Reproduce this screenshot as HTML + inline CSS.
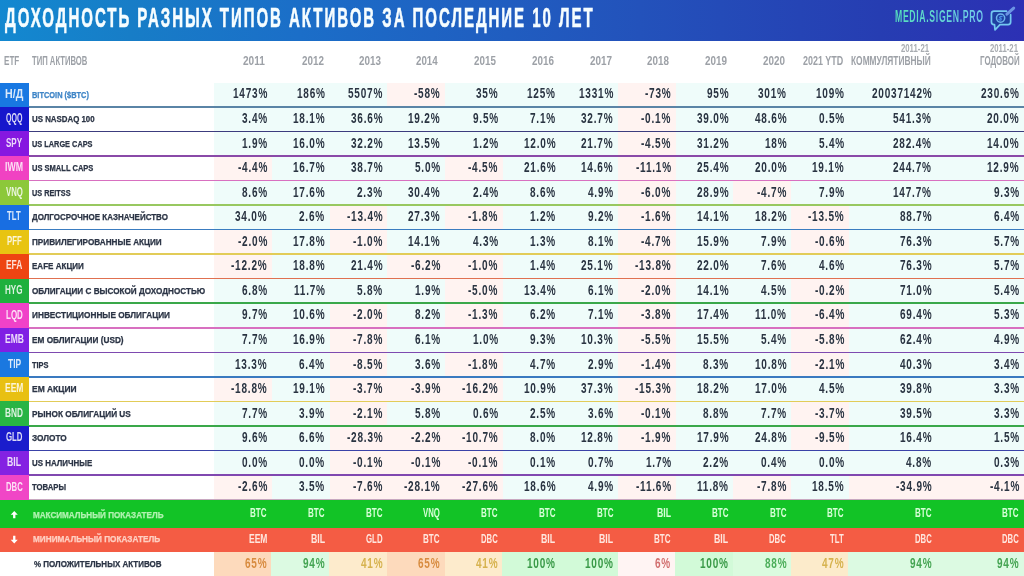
<!DOCTYPE html><html><head><meta charset="utf-8"><style>
*{margin:0;padding:0;box-sizing:border-box}
html,body{width:1024px;height:576px;overflow:hidden;background:#fff}
body{position:relative;font-family:"Liberation Sans",sans-serif}
.a{position:absolute}
.t{position:absolute;white-space:nowrap;transform-origin:0 0}
.b{font-weight:bold}
.s{-webkit-text-stroke:0.25px currentColor}
.bg{position:absolute}
</style></head><body>
<div class="bg" style="left:0;top:0;width:1024px;height:40.5px;background:linear-gradient(90deg,#1388d0 0%,#177dc7 12.7%,#1b6ec8 29.3%,#2352bb 62.5%,#263db2 86%,#2c30b4 100%)"></div>
<div class="t b" style="left:4.55px;top:4.62px;font-size:27px;line-height:27px;color:#f6fdff;transform:scaleX(0.5570);-webkit-text-stroke:0.6px #f6fdff;letter-spacing:3.5px">ДОХОДНОСТЬ РАЗНЫХ ТИПОВ АКТИВОВ ЗА ПОСЛЕДНИЕ 10 ЛЕТ</div>
<div class="t b" style="left:895.39px;top:9.12px;font-size:16px;line-height:16px;color:#5cdcc4;transform:scaleX(0.5437);background:linear-gradient(90deg,#56e0bc,#66d4d8 60%,#74c8ec);-webkit-background-clip:text;background-clip:text;-webkit-text-fill-color:transparent;letter-spacing:1.2px">MEDIA.SIGEN.PRO</div>
<svg class="a" style="left:985px;top:5px" width="34" height="30" viewBox="0 0 34 30" fill="none" stroke-linejoin="round" stroke-linecap="round"><path d="M21.5 6.15 H9 Q6.45 6.15 6.45 8.7 V17 Q6.45 19.55 9 19.55 H9.5 L10 24.8 L15 19.55 H23.1 Q25.65 19.55 25.65 17 V9.7" fill="#1f3fa2" stroke="#74c8f0" stroke-width="1.7"/><circle cx="15.6" cy="13.1" r="4.1" stroke="#6fb4ec" stroke-width="1.5"/><path d="M17 11.6 Q15 10.8 14.6 12.6 Q16.6 13.6 16.2 14.8 Q15 15.6 13.9 14.4" stroke="#4a90ea" stroke-width="1.2"/><path d="M21.9 9.2 L28.7 3.1" stroke="#6c94e4" stroke-width="3"/></svg>
<div class="t b" style="left:3.93px;top:53.91px;font-size:13.5px;line-height:13.5px;color:#9da1a7;transform:scaleX(0.6000)">ETF</div>
<div class="t b" style="left:32.42px;top:53.91px;font-size:13.5px;line-height:13.5px;color:#9da1a7;transform:scaleX(0.5690)">ТИП АКТИВОВ</div>
<div class="t b" style="left:243.10px;top:53.91px;font-size:13.5px;line-height:13.5px;color:#9da1a7;transform:scaleX(0.7478)">2011</div>
<div class="t b" style="left:301.60px;top:53.91px;font-size:13.5px;line-height:13.5px;color:#9da1a7;transform:scaleX(0.7305)">2012</div>
<div class="t b" style="left:358.60px;top:53.91px;font-size:13.5px;line-height:13.5px;color:#9da1a7;transform:scaleX(0.7305)">2013</div>
<div class="t b" style="left:416.36px;top:53.91px;font-size:13.5px;line-height:13.5px;color:#9da1a7;transform:scaleX(0.7204)">2014</div>
<div class="t b" style="left:474.11px;top:53.91px;font-size:13.5px;line-height:13.5px;color:#9da1a7;transform:scaleX(0.7271)">2015</div>
<div class="t b" style="left:531.80px;top:53.91px;font-size:13.5px;line-height:13.5px;color:#9da1a7;transform:scaleX(0.7305)">2016</div>
<div class="t b" style="left:589.50px;top:53.91px;font-size:13.5px;line-height:13.5px;color:#9da1a7;transform:scaleX(0.7339)">2017</div>
<div class="t b" style="left:647.21px;top:53.91px;font-size:13.5px;line-height:13.5px;color:#9da1a7;transform:scaleX(0.7271)">2018</div>
<div class="t b" style="left:704.90px;top:53.91px;font-size:13.5px;line-height:13.5px;color:#9da1a7;transform:scaleX(0.7305)">2019</div>
<div class="t b" style="left:762.60px;top:53.91px;font-size:13.5px;line-height:13.5px;color:#9da1a7;transform:scaleX(0.7305)">2020</div>
<div class="t b" style="left:803.23px;top:53.91px;font-size:13.5px;line-height:13.5px;color:#9da1a7;transform:scaleX(0.6635)">2021 YTD</div>
<div class="t b" style="left:851.16px;top:53.91px;font-size:13.5px;line-height:13.5px;color:#9da1a7;transform:scaleX(0.6204)">КОММУЛЯТИВНЫЙ</div>
<div class="t b" style="left:979.95px;top:53.91px;font-size:13.5px;line-height:13.5px;color:#9da1a7;transform:scaleX(0.5868)">ГОДОВОЙ</div>
<div class="t b" style="left:900.97px;top:43.37px;font-size:10.5px;line-height:10.5px;color:#a9adb2;transform:scaleX(0.7384)">2011-21</div>
<div class="t b" style="left:990.27px;top:43.37px;font-size:10.5px;line-height:10.5px;color:#a9adb2;transform:scaleX(0.7357)">2011-21</div>
<div class="bg" style="left:214.30px;top:83.00px;width:809.70px;height:416.71px;background:#effcfa"></div>
<div class="bg" style="left:387.34px;top:83.00px;width:57.68px;height:23.75px;background:#fff3f1"></div>
<div class="bg" style="left:618.06px;top:83.00px;width:57.68px;height:23.75px;background:#fff3f1"></div>
<div class="bg" style="left:0.00px;top:83.00px;width:28.50px;height:24.35px;background:#1878e2"></div>
<div class="t b" style="left:4.85px;top:86.63px;font-size:13.2px;line-height:13.2px;color:rgba(255,255,255,0.84);transform:scaleX(0.8087)">Н/Д</div>
<div class="t b s" style="left:31.68px;top:90.82px;font-size:8.4px;line-height:8.4px;color:#3d84c6;transform:scaleX(0.8858)">BITCOIN ($BTC)</div>
<div class="t b" style="left:232.70px;top:86.11px;font-size:14px;line-height:14px;color:#2a3442;transform:scaleX(0.7150);letter-spacing:1.1px">1473%</div>
<div class="t b" style="left:296.68px;top:86.11px;font-size:14px;line-height:14px;color:#2a3442;transform:scaleX(0.7150);letter-spacing:1.1px">186%</div>
<div class="t b" style="left:348.06px;top:86.11px;font-size:14px;line-height:14px;color:#2a3442;transform:scaleX(0.7150);letter-spacing:1.1px">5507%</div>
<div class="t b" style="left:414.24px;top:86.11px;font-size:14px;line-height:14px;color:#2a3442;transform:scaleX(0.7150);letter-spacing:1.1px">-58%</div>
<div class="t b" style="left:476.11px;top:86.11px;font-size:14px;line-height:14px;color:#2a3442;transform:scaleX(0.7150);letter-spacing:1.1px">35%</div>
<div class="t b" style="left:527.40px;top:86.11px;font-size:14px;line-height:14px;color:#2a3442;transform:scaleX(0.7150);letter-spacing:1.1px">125%</div>
<div class="t b" style="left:578.78px;top:86.11px;font-size:14px;line-height:14px;color:#2a3442;transform:scaleX(0.7150);letter-spacing:1.1px">1331%</div>
<div class="t b" style="left:644.96px;top:86.11px;font-size:14px;line-height:14px;color:#2a3442;transform:scaleX(0.7150);letter-spacing:1.1px">-73%</div>
<div class="t b" style="left:706.83px;top:86.11px;font-size:14px;line-height:14px;color:#2a3442;transform:scaleX(0.7150);letter-spacing:1.1px">95%</div>
<div class="t b" style="left:758.12px;top:86.11px;font-size:14px;line-height:14px;color:#2a3442;transform:scaleX(0.7150);letter-spacing:1.1px">301%</div>
<div class="t b" style="left:815.80px;top:86.11px;font-size:14px;line-height:14px;color:#2a3442;transform:scaleX(0.7150);letter-spacing:1.1px">109%</div>
<div class="t b" style="left:871.55px;top:86.11px;font-size:14px;line-height:14px;color:#2a3442;transform:scaleX(0.7150);letter-spacing:1.1px">20037142%</div>
<div class="t b" style="left:981.18px;top:86.11px;font-size:14px;line-height:14px;color:#2a3442;transform:scaleX(0.7150);letter-spacing:1.1px">230.6%</div>
<div class="bg" style="left:618.06px;top:106.75px;width:57.68px;height:24.56px;background:#fff3f1"></div>
<div class="bg" style="left:0.00px;top:106.75px;width:28.50px;height:25.16px;background:#1616cc"></div>
<div class="t b" style="left:6.07px;top:111.13px;font-size:13.2px;line-height:13.2px;color:rgba(255,255,255,0.84);transform:scaleX(0.5330)">QQQ</div>
<div class="t b s" style="left:31.73px;top:114.98px;font-size:8.4px;line-height:8.4px;color:#2b3445;transform:scaleX(0.9410)">US NASDAQ 100</div>
<div class="t b" style="left:241.80px;top:110.96px;font-size:14px;line-height:14px;color:#2a3442;transform:scaleX(0.7150);letter-spacing:1.1px">3.4%</div>
<div class="t b" style="left:293.09px;top:110.96px;font-size:14px;line-height:14px;color:#2a3442;transform:scaleX(0.7150);letter-spacing:1.1px">18.1%</div>
<div class="t b" style="left:350.77px;top:110.96px;font-size:14px;line-height:14px;color:#2a3442;transform:scaleX(0.7150);letter-spacing:1.1px">36.6%</div>
<div class="t b" style="left:408.45px;top:110.96px;font-size:14px;line-height:14px;color:#2a3442;transform:scaleX(0.7150);letter-spacing:1.1px">19.2%</div>
<div class="t b" style="left:472.52px;top:110.96px;font-size:14px;line-height:14px;color:#2a3442;transform:scaleX(0.7150);letter-spacing:1.1px">9.5%</div>
<div class="t b" style="left:530.20px;top:110.96px;font-size:14px;line-height:14px;color:#2a3442;transform:scaleX(0.7150);letter-spacing:1.1px">7.1%</div>
<div class="t b" style="left:581.49px;top:110.96px;font-size:14px;line-height:14px;color:#2a3442;transform:scaleX(0.7150);letter-spacing:1.1px">32.7%</div>
<div class="t b" style="left:641.47px;top:110.96px;font-size:14px;line-height:14px;color:#2a3442;transform:scaleX(0.7150);letter-spacing:1.1px">-0.1%</div>
<div class="t b" style="left:696.85px;top:110.96px;font-size:14px;line-height:14px;color:#2a3442;transform:scaleX(0.7150);letter-spacing:1.1px">39.0%</div>
<div class="t b" style="left:754.53px;top:110.96px;font-size:14px;line-height:14px;color:#2a3442;transform:scaleX(0.7150);letter-spacing:1.1px">48.6%</div>
<div class="t b" style="left:818.60px;top:110.96px;font-size:14px;line-height:14px;color:#2a3442;transform:scaleX(0.7150);letter-spacing:1.1px">0.5%</div>
<div class="t b" style="left:893.43px;top:110.96px;font-size:14px;line-height:14px;color:#2a3442;transform:scaleX(0.7150);letter-spacing:1.1px">541.3%</div>
<div class="t b" style="left:987.48px;top:110.96px;font-size:14px;line-height:14px;color:#2a3442;transform:scaleX(0.7150);letter-spacing:1.1px">20.0%</div>
<div class="bg" style="left:618.06px;top:131.31px;width:57.68px;height:24.56px;background:#fff3f1"></div>
<div class="bg" style="left:0.00px;top:131.31px;width:28.50px;height:25.16px;background:#8618e0"></div>
<div class="t b" style="left:6.26px;top:135.69px;font-size:13.2px;line-height:13.2px;color:rgba(255,255,255,0.84);transform:scaleX(0.6061)">SPY</div>
<div class="t b s" style="left:31.76px;top:139.54px;font-size:8.4px;line-height:8.4px;color:#2b3445;transform:scaleX(0.8786)">US LARGE CAPS</div>
<div class="t b" style="left:241.80px;top:135.52px;font-size:14px;line-height:14px;color:#2a3442;transform:scaleX(0.7150);letter-spacing:1.1px">1.9%</div>
<div class="t b" style="left:293.09px;top:135.52px;font-size:14px;line-height:14px;color:#2a3442;transform:scaleX(0.7150);letter-spacing:1.1px">16.0%</div>
<div class="t b" style="left:350.77px;top:135.52px;font-size:14px;line-height:14px;color:#2a3442;transform:scaleX(0.7150);letter-spacing:1.1px">32.2%</div>
<div class="t b" style="left:408.45px;top:135.52px;font-size:14px;line-height:14px;color:#2a3442;transform:scaleX(0.7150);letter-spacing:1.1px">13.5%</div>
<div class="t b" style="left:472.52px;top:135.52px;font-size:14px;line-height:14px;color:#2a3442;transform:scaleX(0.7150);letter-spacing:1.1px">1.2%</div>
<div class="t b" style="left:523.81px;top:135.52px;font-size:14px;line-height:14px;color:#2a3442;transform:scaleX(0.7150);letter-spacing:1.1px">12.0%</div>
<div class="t b" style="left:581.49px;top:135.52px;font-size:14px;line-height:14px;color:#2a3442;transform:scaleX(0.7150);letter-spacing:1.1px">21.7%</div>
<div class="t b" style="left:641.47px;top:135.52px;font-size:14px;line-height:14px;color:#2a3442;transform:scaleX(0.7150);letter-spacing:1.1px">-4.5%</div>
<div class="t b" style="left:696.85px;top:135.52px;font-size:14px;line-height:14px;color:#2a3442;transform:scaleX(0.7150);letter-spacing:1.1px">31.2%</div>
<div class="t b" style="left:764.51px;top:135.52px;font-size:14px;line-height:14px;color:#2a3442;transform:scaleX(0.7150);letter-spacing:1.1px">18%</div>
<div class="t b" style="left:818.60px;top:135.52px;font-size:14px;line-height:14px;color:#2a3442;transform:scaleX(0.7150);letter-spacing:1.1px">5.4%</div>
<div class="t b" style="left:893.43px;top:135.52px;font-size:14px;line-height:14px;color:#2a3442;transform:scaleX(0.7150);letter-spacing:1.1px">282.4%</div>
<div class="t b" style="left:987.48px;top:135.52px;font-size:14px;line-height:14px;color:#2a3442;transform:scaleX(0.7150);letter-spacing:1.1px">14.0%</div>
<div class="bg" style="left:214.30px;top:155.87px;width:57.68px;height:24.56px;background:#fff3f1"></div>
<div class="bg" style="left:445.02px;top:155.87px;width:57.68px;height:24.56px;background:#fff3f1"></div>
<div class="bg" style="left:618.06px;top:155.87px;width:57.68px;height:24.56px;background:#fff3f1"></div>
<div class="bg" style="left:0.00px;top:155.87px;width:28.50px;height:25.16px;background:#f042c2"></div>
<div class="t b" style="left:5.29px;top:160.25px;font-size:13.2px;line-height:13.2px;color:rgba(255,255,255,0.84);transform:scaleX(0.6629)">IWM</div>
<div class="t b s" style="left:31.75px;top:164.10px;font-size:8.4px;line-height:8.4px;color:#2b3445;transform:scaleX(0.8991)">US SMALL CAPS</div>
<div class="t b" style="left:237.71px;top:160.08px;font-size:14px;line-height:14px;color:#2a3442;transform:scaleX(0.7150);letter-spacing:1.1px">-4.4%</div>
<div class="t b" style="left:293.09px;top:160.08px;font-size:14px;line-height:14px;color:#2a3442;transform:scaleX(0.7150);letter-spacing:1.1px">16.7%</div>
<div class="t b" style="left:350.77px;top:160.08px;font-size:14px;line-height:14px;color:#2a3442;transform:scaleX(0.7150);letter-spacing:1.1px">38.7%</div>
<div class="t b" style="left:414.84px;top:160.08px;font-size:14px;line-height:14px;color:#2a3442;transform:scaleX(0.7150);letter-spacing:1.1px">5.0%</div>
<div class="t b" style="left:468.43px;top:160.08px;font-size:14px;line-height:14px;color:#2a3442;transform:scaleX(0.7150);letter-spacing:1.1px">-4.5%</div>
<div class="t b" style="left:523.81px;top:160.08px;font-size:14px;line-height:14px;color:#2a3442;transform:scaleX(0.7150);letter-spacing:1.1px">21.6%</div>
<div class="t b" style="left:581.49px;top:160.08px;font-size:14px;line-height:14px;color:#2a3442;transform:scaleX(0.7150);letter-spacing:1.1px">14.6%</div>
<div class="t b" style="left:635.68px;top:160.08px;font-size:14px;line-height:14px;color:#2a3442;transform:scaleX(0.7150);letter-spacing:1.1px">-11.1%</div>
<div class="t b" style="left:696.85px;top:160.08px;font-size:14px;line-height:14px;color:#2a3442;transform:scaleX(0.7150);letter-spacing:1.1px">25.4%</div>
<div class="t b" style="left:754.53px;top:160.08px;font-size:14px;line-height:14px;color:#2a3442;transform:scaleX(0.7150);letter-spacing:1.1px">20.0%</div>
<div class="t b" style="left:812.21px;top:160.08px;font-size:14px;line-height:14px;color:#2a3442;transform:scaleX(0.7150);letter-spacing:1.1px">19.1%</div>
<div class="t b" style="left:893.43px;top:160.08px;font-size:14px;line-height:14px;color:#2a3442;transform:scaleX(0.7150);letter-spacing:1.1px">244.7%</div>
<div class="t b" style="left:987.48px;top:160.08px;font-size:14px;line-height:14px;color:#2a3442;transform:scaleX(0.7150);letter-spacing:1.1px">12.9%</div>
<div class="bg" style="left:618.06px;top:180.43px;width:57.68px;height:24.56px;background:#fff3f1"></div>
<div class="bg" style="left:733.42px;top:180.43px;width:57.68px;height:24.56px;background:#fff3f1"></div>
<div class="bg" style="left:0.00px;top:180.43px;width:28.50px;height:25.16px;background:#8cc83a"></div>
<div class="t b" style="left:5.97px;top:184.81px;font-size:13.2px;line-height:13.2px;color:rgba(255,255,255,0.84);transform:scaleX(0.5896)">VNQ</div>
<div class="t b s" style="left:31.76px;top:188.66px;font-size:8.4px;line-height:8.4px;color:#2b3445;transform:scaleX(0.8710)">US REITSS</div>
<div class="t b" style="left:241.80px;top:184.64px;font-size:14px;line-height:14px;color:#2a3442;transform:scaleX(0.7150);letter-spacing:1.1px">8.6%</div>
<div class="t b" style="left:293.09px;top:184.64px;font-size:14px;line-height:14px;color:#2a3442;transform:scaleX(0.7150);letter-spacing:1.1px">17.6%</div>
<div class="t b" style="left:357.16px;top:184.64px;font-size:14px;line-height:14px;color:#2a3442;transform:scaleX(0.7150);letter-spacing:1.1px">2.3%</div>
<div class="t b" style="left:408.45px;top:184.64px;font-size:14px;line-height:14px;color:#2a3442;transform:scaleX(0.7150);letter-spacing:1.1px">30.4%</div>
<div class="t b" style="left:472.52px;top:184.64px;font-size:14px;line-height:14px;color:#2a3442;transform:scaleX(0.7150);letter-spacing:1.1px">2.4%</div>
<div class="t b" style="left:530.20px;top:184.64px;font-size:14px;line-height:14px;color:#2a3442;transform:scaleX(0.7150);letter-spacing:1.1px">8.6%</div>
<div class="t b" style="left:587.88px;top:184.64px;font-size:14px;line-height:14px;color:#2a3442;transform:scaleX(0.7150);letter-spacing:1.1px">4.9%</div>
<div class="t b" style="left:641.47px;top:184.64px;font-size:14px;line-height:14px;color:#2a3442;transform:scaleX(0.7150);letter-spacing:1.1px">-6.0%</div>
<div class="t b" style="left:696.85px;top:184.64px;font-size:14px;line-height:14px;color:#2a3442;transform:scaleX(0.7150);letter-spacing:1.1px">28.9%</div>
<div class="t b" style="left:756.83px;top:184.64px;font-size:14px;line-height:14px;color:#2a3442;transform:scaleX(0.7150);letter-spacing:1.1px">-4.7%</div>
<div class="t b" style="left:818.60px;top:184.64px;font-size:14px;line-height:14px;color:#2a3442;transform:scaleX(0.7150);letter-spacing:1.1px">7.9%</div>
<div class="t b" style="left:893.43px;top:184.64px;font-size:14px;line-height:14px;color:#2a3442;transform:scaleX(0.7150);letter-spacing:1.1px">147.7%</div>
<div class="t b" style="left:993.87px;top:184.64px;font-size:14px;line-height:14px;color:#2a3442;transform:scaleX(0.7150);letter-spacing:1.1px">9.3%</div>
<div class="bg" style="left:329.66px;top:204.99px;width:57.68px;height:24.56px;background:#fff3f1"></div>
<div class="bg" style="left:445.02px;top:204.99px;width:57.68px;height:24.56px;background:#fff3f1"></div>
<div class="bg" style="left:618.06px;top:204.99px;width:57.68px;height:24.56px;background:#fff3f1"></div>
<div class="bg" style="left:791.10px;top:204.99px;width:57.68px;height:24.56px;background:#fff3f1"></div>
<div class="bg" style="left:0.00px;top:204.99px;width:28.50px;height:25.16px;background:#186ee2"></div>
<div class="t b" style="left:7.47px;top:209.37px;font-size:13.2px;line-height:13.2px;color:rgba(255,255,255,0.84);transform:scaleX(0.5878)">TLT</div>
<div class="t b s" style="left:32.12px;top:213.22px;font-size:8.4px;line-height:8.4px;color:#2b3445;transform:scaleX(0.9545)">ДОЛГОСРОЧНОЕ КАЗНАЧЕЙСТВО</div>
<div class="t b" style="left:235.41px;top:209.20px;font-size:14px;line-height:14px;color:#2a3442;transform:scaleX(0.7150);letter-spacing:1.1px">34.0%</div>
<div class="t b" style="left:299.48px;top:209.20px;font-size:14px;line-height:14px;color:#2a3442;transform:scaleX(0.7150);letter-spacing:1.1px">2.6%</div>
<div class="t b" style="left:346.68px;top:209.20px;font-size:14px;line-height:14px;color:#2a3442;transform:scaleX(0.7150);letter-spacing:1.1px">-13.4%</div>
<div class="t b" style="left:408.45px;top:209.20px;font-size:14px;line-height:14px;color:#2a3442;transform:scaleX(0.7150);letter-spacing:1.1px">27.3%</div>
<div class="t b" style="left:468.43px;top:209.20px;font-size:14px;line-height:14px;color:#2a3442;transform:scaleX(0.7150);letter-spacing:1.1px">-1.8%</div>
<div class="t b" style="left:530.20px;top:209.20px;font-size:14px;line-height:14px;color:#2a3442;transform:scaleX(0.7150);letter-spacing:1.1px">1.2%</div>
<div class="t b" style="left:587.88px;top:209.20px;font-size:14px;line-height:14px;color:#2a3442;transform:scaleX(0.7150);letter-spacing:1.1px">9.2%</div>
<div class="t b" style="left:641.47px;top:209.20px;font-size:14px;line-height:14px;color:#2a3442;transform:scaleX(0.7150);letter-spacing:1.1px">-1.6%</div>
<div class="t b" style="left:696.85px;top:209.20px;font-size:14px;line-height:14px;color:#2a3442;transform:scaleX(0.7150);letter-spacing:1.1px">14.1%</div>
<div class="t b" style="left:754.53px;top:209.20px;font-size:14px;line-height:14px;color:#2a3442;transform:scaleX(0.7150);letter-spacing:1.1px">18.2%</div>
<div class="t b" style="left:808.12px;top:209.20px;font-size:14px;line-height:14px;color:#2a3442;transform:scaleX(0.7150);letter-spacing:1.1px">-13.5%</div>
<div class="t b" style="left:899.73px;top:209.20px;font-size:14px;line-height:14px;color:#2a3442;transform:scaleX(0.7150);letter-spacing:1.1px">88.7%</div>
<div class="t b" style="left:993.87px;top:209.20px;font-size:14px;line-height:14px;color:#2a3442;transform:scaleX(0.7150);letter-spacing:1.1px">6.4%</div>
<div class="bg" style="left:214.30px;top:229.55px;width:57.68px;height:24.56px;background:#fff3f1"></div>
<div class="bg" style="left:329.66px;top:229.55px;width:57.68px;height:24.56px;background:#fff3f1"></div>
<div class="bg" style="left:618.06px;top:229.55px;width:57.68px;height:24.56px;background:#fff3f1"></div>
<div class="bg" style="left:791.10px;top:229.55px;width:57.68px;height:24.56px;background:#fff3f1"></div>
<div class="bg" style="left:0.00px;top:229.55px;width:28.50px;height:25.16px;background:#e8c412"></div>
<div class="t b" style="left:6.81px;top:233.93px;font-size:13.2px;line-height:13.2px;color:rgba(255,255,255,0.84);transform:scaleX(0.5883)">PFF</div>
<div class="t b s" style="left:31.63px;top:237.78px;font-size:8.4px;line-height:8.4px;color:#2b3445;transform:scaleX(0.9744)">ПРИВИЛЕГИРОВАННЫЕ АКЦИИ</div>
<div class="t b" style="left:237.71px;top:233.76px;font-size:14px;line-height:14px;color:#2a3442;transform:scaleX(0.7150);letter-spacing:1.1px">-2.0%</div>
<div class="t b" style="left:293.09px;top:233.76px;font-size:14px;line-height:14px;color:#2a3442;transform:scaleX(0.7150);letter-spacing:1.1px">17.8%</div>
<div class="t b" style="left:353.07px;top:233.76px;font-size:14px;line-height:14px;color:#2a3442;transform:scaleX(0.7150);letter-spacing:1.1px">-1.0%</div>
<div class="t b" style="left:408.45px;top:233.76px;font-size:14px;line-height:14px;color:#2a3442;transform:scaleX(0.7150);letter-spacing:1.1px">14.1%</div>
<div class="t b" style="left:472.52px;top:233.76px;font-size:14px;line-height:14px;color:#2a3442;transform:scaleX(0.7150);letter-spacing:1.1px">4.3%</div>
<div class="t b" style="left:530.20px;top:233.76px;font-size:14px;line-height:14px;color:#2a3442;transform:scaleX(0.7150);letter-spacing:1.1px">1.3%</div>
<div class="t b" style="left:587.88px;top:233.76px;font-size:14px;line-height:14px;color:#2a3442;transform:scaleX(0.7150);letter-spacing:1.1px">8.1%</div>
<div class="t b" style="left:641.47px;top:233.76px;font-size:14px;line-height:14px;color:#2a3442;transform:scaleX(0.7150);letter-spacing:1.1px">-4.7%</div>
<div class="t b" style="left:696.85px;top:233.76px;font-size:14px;line-height:14px;color:#2a3442;transform:scaleX(0.7150);letter-spacing:1.1px">15.9%</div>
<div class="t b" style="left:760.92px;top:233.76px;font-size:14px;line-height:14px;color:#2a3442;transform:scaleX(0.7150);letter-spacing:1.1px">7.9%</div>
<div class="t b" style="left:814.51px;top:233.76px;font-size:14px;line-height:14px;color:#2a3442;transform:scaleX(0.7150);letter-spacing:1.1px">-0.6%</div>
<div class="t b" style="left:899.73px;top:233.76px;font-size:14px;line-height:14px;color:#2a3442;transform:scaleX(0.7150);letter-spacing:1.1px">76.3%</div>
<div class="t b" style="left:993.87px;top:233.76px;font-size:14px;line-height:14px;color:#2a3442;transform:scaleX(0.7150);letter-spacing:1.1px">5.7%</div>
<div class="bg" style="left:214.30px;top:254.11px;width:57.68px;height:24.56px;background:#fff3f1"></div>
<div class="bg" style="left:387.34px;top:254.11px;width:115.36px;height:24.56px;background:#fff3f1"></div>
<div class="bg" style="left:618.06px;top:254.11px;width:57.68px;height:24.56px;background:#fff3f1"></div>
<div class="bg" style="left:0.00px;top:254.11px;width:28.50px;height:25.16px;background:#ee4412"></div>
<div class="t b" style="left:5.91px;top:258.49px;font-size:13.2px;line-height:13.2px;color:rgba(255,255,255,0.84);transform:scaleX(0.6388)">EFA</div>
<div class="t b s" style="left:31.64px;top:262.34px;font-size:8.4px;line-height:8.4px;color:#2b3445;transform:scaleX(0.9603)">EAFE АКЦИИ</div>
<div class="t b" style="left:231.32px;top:258.32px;font-size:14px;line-height:14px;color:#2a3442;transform:scaleX(0.7150);letter-spacing:1.1px">-12.2%</div>
<div class="t b" style="left:293.09px;top:258.32px;font-size:14px;line-height:14px;color:#2a3442;transform:scaleX(0.7150);letter-spacing:1.1px">18.8%</div>
<div class="t b" style="left:350.77px;top:258.32px;font-size:14px;line-height:14px;color:#2a3442;transform:scaleX(0.7150);letter-spacing:1.1px">21.4%</div>
<div class="t b" style="left:410.75px;top:258.32px;font-size:14px;line-height:14px;color:#2a3442;transform:scaleX(0.7150);letter-spacing:1.1px">-6.2%</div>
<div class="t b" style="left:468.43px;top:258.32px;font-size:14px;line-height:14px;color:#2a3442;transform:scaleX(0.7150);letter-spacing:1.1px">-1.0%</div>
<div class="t b" style="left:530.20px;top:258.32px;font-size:14px;line-height:14px;color:#2a3442;transform:scaleX(0.7150);letter-spacing:1.1px">1.4%</div>
<div class="t b" style="left:581.49px;top:258.32px;font-size:14px;line-height:14px;color:#2a3442;transform:scaleX(0.7150);letter-spacing:1.1px">25.1%</div>
<div class="t b" style="left:635.08px;top:258.32px;font-size:14px;line-height:14px;color:#2a3442;transform:scaleX(0.7150);letter-spacing:1.1px">-13.8%</div>
<div class="t b" style="left:696.85px;top:258.32px;font-size:14px;line-height:14px;color:#2a3442;transform:scaleX(0.7150);letter-spacing:1.1px">22.0%</div>
<div class="t b" style="left:760.92px;top:258.32px;font-size:14px;line-height:14px;color:#2a3442;transform:scaleX(0.7150);letter-spacing:1.1px">7.6%</div>
<div class="t b" style="left:818.60px;top:258.32px;font-size:14px;line-height:14px;color:#2a3442;transform:scaleX(0.7150);letter-spacing:1.1px">4.6%</div>
<div class="t b" style="left:899.73px;top:258.32px;font-size:14px;line-height:14px;color:#2a3442;transform:scaleX(0.7150);letter-spacing:1.1px">76.3%</div>
<div class="t b" style="left:993.87px;top:258.32px;font-size:14px;line-height:14px;color:#2a3442;transform:scaleX(0.7150);letter-spacing:1.1px">5.7%</div>
<div class="bg" style="left:445.02px;top:278.67px;width:57.68px;height:24.56px;background:#fff3f1"></div>
<div class="bg" style="left:618.06px;top:278.67px;width:57.68px;height:24.56px;background:#fff3f1"></div>
<div class="bg" style="left:791.10px;top:278.67px;width:57.68px;height:24.56px;background:#fff3f1"></div>
<div class="bg" style="left:0.00px;top:278.67px;width:28.50px;height:25.16px;background:#1fb03e"></div>
<div class="t b" style="left:5.48px;top:283.05px;font-size:13.2px;line-height:13.2px;color:rgba(255,255,255,0.84);transform:scaleX(0.6127)">HYG</div>
<div class="t b s" style="left:31.87px;top:286.90px;font-size:8.4px;line-height:8.4px;color:#2b3445;transform:scaleX(0.9729)">ОБЛИГАЦИИ С ВЫСОКОЙ ДОХОДНОСТЬЮ</div>
<div class="t b" style="left:241.80px;top:282.88px;font-size:14px;line-height:14px;color:#2a3442;transform:scaleX(0.7150);letter-spacing:1.1px">6.8%</div>
<div class="t b" style="left:293.69px;top:282.88px;font-size:14px;line-height:14px;color:#2a3442;transform:scaleX(0.7150);letter-spacing:1.1px">11.7%</div>
<div class="t b" style="left:357.16px;top:282.88px;font-size:14px;line-height:14px;color:#2a3442;transform:scaleX(0.7150);letter-spacing:1.1px">5.8%</div>
<div class="t b" style="left:414.84px;top:282.88px;font-size:14px;line-height:14px;color:#2a3442;transform:scaleX(0.7150);letter-spacing:1.1px">1.9%</div>
<div class="t b" style="left:468.43px;top:282.88px;font-size:14px;line-height:14px;color:#2a3442;transform:scaleX(0.7150);letter-spacing:1.1px">-5.0%</div>
<div class="t b" style="left:523.81px;top:282.88px;font-size:14px;line-height:14px;color:#2a3442;transform:scaleX(0.7150);letter-spacing:1.1px">13.4%</div>
<div class="t b" style="left:587.88px;top:282.88px;font-size:14px;line-height:14px;color:#2a3442;transform:scaleX(0.7150);letter-spacing:1.1px">6.1%</div>
<div class="t b" style="left:641.47px;top:282.88px;font-size:14px;line-height:14px;color:#2a3442;transform:scaleX(0.7150);letter-spacing:1.1px">-2.0%</div>
<div class="t b" style="left:696.85px;top:282.88px;font-size:14px;line-height:14px;color:#2a3442;transform:scaleX(0.7150);letter-spacing:1.1px">14.1%</div>
<div class="t b" style="left:760.92px;top:282.88px;font-size:14px;line-height:14px;color:#2a3442;transform:scaleX(0.7150);letter-spacing:1.1px">4.5%</div>
<div class="t b" style="left:814.51px;top:282.88px;font-size:14px;line-height:14px;color:#2a3442;transform:scaleX(0.7150);letter-spacing:1.1px">-0.2%</div>
<div class="t b" style="left:899.73px;top:282.88px;font-size:14px;line-height:14px;color:#2a3442;transform:scaleX(0.7150);letter-spacing:1.1px">71.0%</div>
<div class="t b" style="left:993.87px;top:282.88px;font-size:14px;line-height:14px;color:#2a3442;transform:scaleX(0.7150);letter-spacing:1.1px">5.4%</div>
<div class="bg" style="left:329.66px;top:303.23px;width:57.68px;height:24.56px;background:#fff3f1"></div>
<div class="bg" style="left:445.02px;top:303.23px;width:57.68px;height:24.56px;background:#fff3f1"></div>
<div class="bg" style="left:618.06px;top:303.23px;width:57.68px;height:24.56px;background:#fff3f1"></div>
<div class="bg" style="left:791.10px;top:303.23px;width:57.68px;height:24.56px;background:#fff3f1"></div>
<div class="bg" style="left:0.00px;top:303.23px;width:28.50px;height:25.16px;background:#f042c8"></div>
<div class="t b" style="left:5.74px;top:307.61px;font-size:13.2px;line-height:13.2px;color:rgba(255,255,255,0.84);transform:scaleX(0.6061)">LQD</div>
<div class="t b s" style="left:31.62px;top:311.46px;font-size:8.4px;line-height:8.4px;color:#2b3445;transform:scaleX(0.9847)">ИНВЕСТИЦИОННЫЕ ОБЛИГАЦИИ</div>
<div class="t b" style="left:241.80px;top:307.44px;font-size:14px;line-height:14px;color:#2a3442;transform:scaleX(0.7150);letter-spacing:1.1px">9.7%</div>
<div class="t b" style="left:293.09px;top:307.44px;font-size:14px;line-height:14px;color:#2a3442;transform:scaleX(0.7150);letter-spacing:1.1px">10.6%</div>
<div class="t b" style="left:353.07px;top:307.44px;font-size:14px;line-height:14px;color:#2a3442;transform:scaleX(0.7150);letter-spacing:1.1px">-2.0%</div>
<div class="t b" style="left:414.84px;top:307.44px;font-size:14px;line-height:14px;color:#2a3442;transform:scaleX(0.7150);letter-spacing:1.1px">8.2%</div>
<div class="t b" style="left:468.43px;top:307.44px;font-size:14px;line-height:14px;color:#2a3442;transform:scaleX(0.7150);letter-spacing:1.1px">-1.3%</div>
<div class="t b" style="left:530.20px;top:307.44px;font-size:14px;line-height:14px;color:#2a3442;transform:scaleX(0.7150);letter-spacing:1.1px">6.2%</div>
<div class="t b" style="left:587.88px;top:307.44px;font-size:14px;line-height:14px;color:#2a3442;transform:scaleX(0.7150);letter-spacing:1.1px">7.1%</div>
<div class="t b" style="left:641.47px;top:307.44px;font-size:14px;line-height:14px;color:#2a3442;transform:scaleX(0.7150);letter-spacing:1.1px">-3.8%</div>
<div class="t b" style="left:696.85px;top:307.44px;font-size:14px;line-height:14px;color:#2a3442;transform:scaleX(0.7150);letter-spacing:1.1px">17.4%</div>
<div class="t b" style="left:755.13px;top:307.44px;font-size:14px;line-height:14px;color:#2a3442;transform:scaleX(0.7150);letter-spacing:1.1px">11.0%</div>
<div class="t b" style="left:814.51px;top:307.44px;font-size:14px;line-height:14px;color:#2a3442;transform:scaleX(0.7150);letter-spacing:1.1px">-6.4%</div>
<div class="t b" style="left:899.73px;top:307.44px;font-size:14px;line-height:14px;color:#2a3442;transform:scaleX(0.7150);letter-spacing:1.1px">69.4%</div>
<div class="t b" style="left:993.87px;top:307.44px;font-size:14px;line-height:14px;color:#2a3442;transform:scaleX(0.7150);letter-spacing:1.1px">5.3%</div>
<div class="bg" style="left:329.66px;top:327.79px;width:57.68px;height:24.56px;background:#fff3f1"></div>
<div class="bg" style="left:618.06px;top:327.79px;width:57.68px;height:24.56px;background:#fff3f1"></div>
<div class="bg" style="left:791.10px;top:327.79px;width:57.68px;height:24.56px;background:#fff3f1"></div>
<div class="bg" style="left:0.00px;top:327.79px;width:28.50px;height:25.16px;background:#8020e4"></div>
<div class="t b" style="left:4.70px;top:332.17px;font-size:13.2px;line-height:13.2px;color:rgba(255,255,255,0.84);transform:scaleX(0.6463)">EMB</div>
<div class="t b s" style="left:31.62px;top:336.02px;font-size:8.4px;line-height:8.4px;color:#2b3445;transform:scaleX(0.9838)">EM ОБЛИГАЦИИ (USD)</div>
<div class="t b" style="left:241.80px;top:332.00px;font-size:14px;line-height:14px;color:#2a3442;transform:scaleX(0.7150);letter-spacing:1.1px">7.7%</div>
<div class="t b" style="left:293.09px;top:332.00px;font-size:14px;line-height:14px;color:#2a3442;transform:scaleX(0.7150);letter-spacing:1.1px">16.9%</div>
<div class="t b" style="left:353.07px;top:332.00px;font-size:14px;line-height:14px;color:#2a3442;transform:scaleX(0.7150);letter-spacing:1.1px">-7.8%</div>
<div class="t b" style="left:414.84px;top:332.00px;font-size:14px;line-height:14px;color:#2a3442;transform:scaleX(0.7150);letter-spacing:1.1px">6.1%</div>
<div class="t b" style="left:472.52px;top:332.00px;font-size:14px;line-height:14px;color:#2a3442;transform:scaleX(0.7150);letter-spacing:1.1px">1.0%</div>
<div class="t b" style="left:530.20px;top:332.00px;font-size:14px;line-height:14px;color:#2a3442;transform:scaleX(0.7150);letter-spacing:1.1px">9.3%</div>
<div class="t b" style="left:581.49px;top:332.00px;font-size:14px;line-height:14px;color:#2a3442;transform:scaleX(0.7150);letter-spacing:1.1px">10.3%</div>
<div class="t b" style="left:641.47px;top:332.00px;font-size:14px;line-height:14px;color:#2a3442;transform:scaleX(0.7150);letter-spacing:1.1px">-5.5%</div>
<div class="t b" style="left:696.85px;top:332.00px;font-size:14px;line-height:14px;color:#2a3442;transform:scaleX(0.7150);letter-spacing:1.1px">15.5%</div>
<div class="t b" style="left:760.92px;top:332.00px;font-size:14px;line-height:14px;color:#2a3442;transform:scaleX(0.7150);letter-spacing:1.1px">5.4%</div>
<div class="t b" style="left:814.51px;top:332.00px;font-size:14px;line-height:14px;color:#2a3442;transform:scaleX(0.7150);letter-spacing:1.1px">-5.8%</div>
<div class="t b" style="left:899.73px;top:332.00px;font-size:14px;line-height:14px;color:#2a3442;transform:scaleX(0.7150);letter-spacing:1.1px">62.4%</div>
<div class="t b" style="left:993.87px;top:332.00px;font-size:14px;line-height:14px;color:#2a3442;transform:scaleX(0.7150);letter-spacing:1.1px">4.9%</div>
<div class="bg" style="left:329.66px;top:352.35px;width:57.68px;height:24.56px;background:#fff3f1"></div>
<div class="bg" style="left:445.02px;top:352.35px;width:57.68px;height:24.56px;background:#fff3f1"></div>
<div class="bg" style="left:618.06px;top:352.35px;width:57.68px;height:24.56px;background:#fff3f1"></div>
<div class="bg" style="left:791.10px;top:352.35px;width:57.68px;height:24.56px;background:#fff3f1"></div>
<div class="bg" style="left:0.00px;top:352.35px;width:28.50px;height:25.16px;background:#1a78e0"></div>
<div class="t b" style="left:7.87px;top:356.73px;font-size:13.2px;line-height:13.2px;color:rgba(255,255,255,0.84);transform:scaleX(0.6372)">TIP</div>
<div class="t b s" style="left:32.13px;top:360.58px;font-size:8.4px;line-height:8.4px;color:#2b3445;transform:scaleX(0.8901)">TIPS</div>
<div class="t b" style="left:235.41px;top:356.56px;font-size:14px;line-height:14px;color:#2a3442;transform:scaleX(0.7150);letter-spacing:1.1px">13.3%</div>
<div class="t b" style="left:299.48px;top:356.56px;font-size:14px;line-height:14px;color:#2a3442;transform:scaleX(0.7150);letter-spacing:1.1px">6.4%</div>
<div class="t b" style="left:353.07px;top:356.56px;font-size:14px;line-height:14px;color:#2a3442;transform:scaleX(0.7150);letter-spacing:1.1px">-8.5%</div>
<div class="t b" style="left:414.84px;top:356.56px;font-size:14px;line-height:14px;color:#2a3442;transform:scaleX(0.7150);letter-spacing:1.1px">3.6%</div>
<div class="t b" style="left:468.43px;top:356.56px;font-size:14px;line-height:14px;color:#2a3442;transform:scaleX(0.7150);letter-spacing:1.1px">-1.8%</div>
<div class="t b" style="left:530.20px;top:356.56px;font-size:14px;line-height:14px;color:#2a3442;transform:scaleX(0.7150);letter-spacing:1.1px">4.7%</div>
<div class="t b" style="left:587.88px;top:356.56px;font-size:14px;line-height:14px;color:#2a3442;transform:scaleX(0.7150);letter-spacing:1.1px">2.9%</div>
<div class="t b" style="left:641.47px;top:356.56px;font-size:14px;line-height:14px;color:#2a3442;transform:scaleX(0.7150);letter-spacing:1.1px">-1.4%</div>
<div class="t b" style="left:703.24px;top:356.56px;font-size:14px;line-height:14px;color:#2a3442;transform:scaleX(0.7150);letter-spacing:1.1px">8.3%</div>
<div class="t b" style="left:754.53px;top:356.56px;font-size:14px;line-height:14px;color:#2a3442;transform:scaleX(0.7150);letter-spacing:1.1px">10.8%</div>
<div class="t b" style="left:814.51px;top:356.56px;font-size:14px;line-height:14px;color:#2a3442;transform:scaleX(0.7150);letter-spacing:1.1px">-2.1%</div>
<div class="t b" style="left:899.73px;top:356.56px;font-size:14px;line-height:14px;color:#2a3442;transform:scaleX(0.7150);letter-spacing:1.1px">40.3%</div>
<div class="t b" style="left:993.87px;top:356.56px;font-size:14px;line-height:14px;color:#2a3442;transform:scaleX(0.7150);letter-spacing:1.1px">3.4%</div>
<div class="bg" style="left:214.30px;top:376.91px;width:57.68px;height:24.56px;background:#fff3f1"></div>
<div class="bg" style="left:329.66px;top:376.91px;width:173.04px;height:24.56px;background:#fff3f1"></div>
<div class="bg" style="left:618.06px;top:376.91px;width:57.68px;height:24.56px;background:#fff3f1"></div>
<div class="bg" style="left:0.00px;top:376.91px;width:28.50px;height:25.16px;background:#e8c012"></div>
<div class="t b" style="left:5.05px;top:381.29px;font-size:13.2px;line-height:13.2px;color:rgba(255,255,255,0.84);transform:scaleX(0.6456)">EEM</div>
<div class="t b s" style="left:31.61px;top:385.14px;font-size:8.4px;line-height:8.4px;color:#2b3445;transform:scaleX(1.0075)">EM АКЦИИ</div>
<div class="t b" style="left:231.32px;top:381.12px;font-size:14px;line-height:14px;color:#2a3442;transform:scaleX(0.7150);letter-spacing:1.1px">-18.8%</div>
<div class="t b" style="left:293.09px;top:381.12px;font-size:14px;line-height:14px;color:#2a3442;transform:scaleX(0.7150);letter-spacing:1.1px">19.1%</div>
<div class="t b" style="left:353.07px;top:381.12px;font-size:14px;line-height:14px;color:#2a3442;transform:scaleX(0.7150);letter-spacing:1.1px">-3.7%</div>
<div class="t b" style="left:410.75px;top:381.12px;font-size:14px;line-height:14px;color:#2a3442;transform:scaleX(0.7150);letter-spacing:1.1px">-3.9%</div>
<div class="t b" style="left:462.04px;top:381.12px;font-size:14px;line-height:14px;color:#2a3442;transform:scaleX(0.7150);letter-spacing:1.1px">-16.2%</div>
<div class="t b" style="left:523.81px;top:381.12px;font-size:14px;line-height:14px;color:#2a3442;transform:scaleX(0.7150);letter-spacing:1.1px">10.9%</div>
<div class="t b" style="left:581.49px;top:381.12px;font-size:14px;line-height:14px;color:#2a3442;transform:scaleX(0.7150);letter-spacing:1.1px">37.3%</div>
<div class="t b" style="left:635.08px;top:381.12px;font-size:14px;line-height:14px;color:#2a3442;transform:scaleX(0.7150);letter-spacing:1.1px">-15.3%</div>
<div class="t b" style="left:696.85px;top:381.12px;font-size:14px;line-height:14px;color:#2a3442;transform:scaleX(0.7150);letter-spacing:1.1px">18.2%</div>
<div class="t b" style="left:754.53px;top:381.12px;font-size:14px;line-height:14px;color:#2a3442;transform:scaleX(0.7150);letter-spacing:1.1px">17.0%</div>
<div class="t b" style="left:818.60px;top:381.12px;font-size:14px;line-height:14px;color:#2a3442;transform:scaleX(0.7150);letter-spacing:1.1px">4.5%</div>
<div class="t b" style="left:899.73px;top:381.12px;font-size:14px;line-height:14px;color:#2a3442;transform:scaleX(0.7150);letter-spacing:1.1px">39.8%</div>
<div class="t b" style="left:993.87px;top:381.12px;font-size:14px;line-height:14px;color:#2a3442;transform:scaleX(0.7150);letter-spacing:1.1px">3.3%</div>
<div class="bg" style="left:329.66px;top:401.47px;width:57.68px;height:24.56px;background:#fff3f1"></div>
<div class="bg" style="left:618.06px;top:401.47px;width:57.68px;height:24.56px;background:#fff3f1"></div>
<div class="bg" style="left:791.10px;top:401.47px;width:57.68px;height:24.56px;background:#fff3f1"></div>
<div class="bg" style="left:0.00px;top:401.47px;width:28.50px;height:25.16px;background:#28b444"></div>
<div class="t b" style="left:5.22px;top:405.85px;font-size:13.2px;line-height:13.2px;color:rgba(255,255,255,0.84);transform:scaleX(0.6282)">BND</div>
<div class="t b s" style="left:31.62px;top:409.70px;font-size:8.4px;line-height:8.4px;color:#2b3445;transform:scaleX(0.9840)">РЫНОК ОБЛИГАЦИЙ US</div>
<div class="t b" style="left:241.80px;top:405.68px;font-size:14px;line-height:14px;color:#2a3442;transform:scaleX(0.7150);letter-spacing:1.1px">7.7%</div>
<div class="t b" style="left:299.48px;top:405.68px;font-size:14px;line-height:14px;color:#2a3442;transform:scaleX(0.7150);letter-spacing:1.1px">3.9%</div>
<div class="t b" style="left:353.07px;top:405.68px;font-size:14px;line-height:14px;color:#2a3442;transform:scaleX(0.7150);letter-spacing:1.1px">-2.1%</div>
<div class="t b" style="left:414.84px;top:405.68px;font-size:14px;line-height:14px;color:#2a3442;transform:scaleX(0.7150);letter-spacing:1.1px">5.8%</div>
<div class="t b" style="left:472.52px;top:405.68px;font-size:14px;line-height:14px;color:#2a3442;transform:scaleX(0.7150);letter-spacing:1.1px">0.6%</div>
<div class="t b" style="left:530.20px;top:405.68px;font-size:14px;line-height:14px;color:#2a3442;transform:scaleX(0.7150);letter-spacing:1.1px">2.5%</div>
<div class="t b" style="left:587.88px;top:405.68px;font-size:14px;line-height:14px;color:#2a3442;transform:scaleX(0.7150);letter-spacing:1.1px">3.6%</div>
<div class="t b" style="left:641.47px;top:405.68px;font-size:14px;line-height:14px;color:#2a3442;transform:scaleX(0.7150);letter-spacing:1.1px">-0.1%</div>
<div class="t b" style="left:703.24px;top:405.68px;font-size:14px;line-height:14px;color:#2a3442;transform:scaleX(0.7150);letter-spacing:1.1px">8.8%</div>
<div class="t b" style="left:760.92px;top:405.68px;font-size:14px;line-height:14px;color:#2a3442;transform:scaleX(0.7150);letter-spacing:1.1px">7.7%</div>
<div class="t b" style="left:814.51px;top:405.68px;font-size:14px;line-height:14px;color:#2a3442;transform:scaleX(0.7150);letter-spacing:1.1px">-3.7%</div>
<div class="t b" style="left:899.73px;top:405.68px;font-size:14px;line-height:14px;color:#2a3442;transform:scaleX(0.7150);letter-spacing:1.1px">39.5%</div>
<div class="t b" style="left:993.87px;top:405.68px;font-size:14px;line-height:14px;color:#2a3442;transform:scaleX(0.7150);letter-spacing:1.1px">3.3%</div>
<div class="bg" style="left:329.66px;top:426.03px;width:173.04px;height:24.56px;background:#fff3f1"></div>
<div class="bg" style="left:618.06px;top:426.03px;width:57.68px;height:24.56px;background:#fff3f1"></div>
<div class="bg" style="left:791.10px;top:426.03px;width:57.68px;height:24.56px;background:#fff3f1"></div>
<div class="bg" style="left:0.00px;top:426.03px;width:28.50px;height:25.16px;background:#1a1ccc"></div>
<div class="t b" style="left:6.04px;top:430.41px;font-size:13.2px;line-height:13.2px;color:rgba(255,255,255,0.84);transform:scaleX(0.5934)">GLD</div>
<div class="t b s" style="left:32.03px;top:434.26px;font-size:8.4px;line-height:8.4px;color:#2b3445;transform:scaleX(0.9839)">ЗОЛОТО</div>
<div class="t b" style="left:241.80px;top:430.24px;font-size:14px;line-height:14px;color:#2a3442;transform:scaleX(0.7150);letter-spacing:1.1px">9.6%</div>
<div class="t b" style="left:299.48px;top:430.24px;font-size:14px;line-height:14px;color:#2a3442;transform:scaleX(0.7150);letter-spacing:1.1px">6.6%</div>
<div class="t b" style="left:346.68px;top:430.24px;font-size:14px;line-height:14px;color:#2a3442;transform:scaleX(0.7150);letter-spacing:1.1px">-28.3%</div>
<div class="t b" style="left:410.75px;top:430.24px;font-size:14px;line-height:14px;color:#2a3442;transform:scaleX(0.7150);letter-spacing:1.1px">-2.2%</div>
<div class="t b" style="left:462.04px;top:430.24px;font-size:14px;line-height:14px;color:#2a3442;transform:scaleX(0.7150);letter-spacing:1.1px">-10.7%</div>
<div class="t b" style="left:530.20px;top:430.24px;font-size:14px;line-height:14px;color:#2a3442;transform:scaleX(0.7150);letter-spacing:1.1px">8.0%</div>
<div class="t b" style="left:581.49px;top:430.24px;font-size:14px;line-height:14px;color:#2a3442;transform:scaleX(0.7150);letter-spacing:1.1px">12.8%</div>
<div class="t b" style="left:641.47px;top:430.24px;font-size:14px;line-height:14px;color:#2a3442;transform:scaleX(0.7150);letter-spacing:1.1px">-1.9%</div>
<div class="t b" style="left:696.85px;top:430.24px;font-size:14px;line-height:14px;color:#2a3442;transform:scaleX(0.7150);letter-spacing:1.1px">17.9%</div>
<div class="t b" style="left:754.53px;top:430.24px;font-size:14px;line-height:14px;color:#2a3442;transform:scaleX(0.7150);letter-spacing:1.1px">24.8%</div>
<div class="t b" style="left:814.51px;top:430.24px;font-size:14px;line-height:14px;color:#2a3442;transform:scaleX(0.7150);letter-spacing:1.1px">-9.5%</div>
<div class="t b" style="left:899.73px;top:430.24px;font-size:14px;line-height:14px;color:#2a3442;transform:scaleX(0.7150);letter-spacing:1.1px">16.4%</div>
<div class="t b" style="left:993.87px;top:430.24px;font-size:14px;line-height:14px;color:#2a3442;transform:scaleX(0.7150);letter-spacing:1.1px">1.5%</div>
<div class="bg" style="left:329.66px;top:450.59px;width:173.04px;height:24.56px;background:#fff3f1"></div>
<div class="bg" style="left:0.00px;top:450.59px;width:28.50px;height:25.16px;background:#8422e2"></div>
<div class="t b" style="left:7.09px;top:454.97px;font-size:13.2px;line-height:13.2px;color:rgba(255,255,255,0.84);transform:scaleX(0.6623)">BIL</div>
<div class="t b s" style="left:31.72px;top:458.82px;font-size:8.4px;line-height:8.4px;color:#2b3445;transform:scaleX(0.9451)">US НАЛИЧНЫЕ</div>
<div class="t b" style="left:241.80px;top:454.80px;font-size:14px;line-height:14px;color:#2a3442;transform:scaleX(0.7150);letter-spacing:1.1px">0.0%</div>
<div class="t b" style="left:299.48px;top:454.80px;font-size:14px;line-height:14px;color:#2a3442;transform:scaleX(0.7150);letter-spacing:1.1px">0.0%</div>
<div class="t b" style="left:353.07px;top:454.80px;font-size:14px;line-height:14px;color:#2a3442;transform:scaleX(0.7150);letter-spacing:1.1px">-0.1%</div>
<div class="t b" style="left:410.75px;top:454.80px;font-size:14px;line-height:14px;color:#2a3442;transform:scaleX(0.7150);letter-spacing:1.1px">-0.1%</div>
<div class="t b" style="left:468.43px;top:454.80px;font-size:14px;line-height:14px;color:#2a3442;transform:scaleX(0.7150);letter-spacing:1.1px">-0.1%</div>
<div class="t b" style="left:530.20px;top:454.80px;font-size:14px;line-height:14px;color:#2a3442;transform:scaleX(0.7150);letter-spacing:1.1px">0.1%</div>
<div class="t b" style="left:587.88px;top:454.80px;font-size:14px;line-height:14px;color:#2a3442;transform:scaleX(0.7150);letter-spacing:1.1px">0.7%</div>
<div class="t b" style="left:645.56px;top:454.80px;font-size:14px;line-height:14px;color:#2a3442;transform:scaleX(0.7150);letter-spacing:1.1px">1.7%</div>
<div class="t b" style="left:703.24px;top:454.80px;font-size:14px;line-height:14px;color:#2a3442;transform:scaleX(0.7150);letter-spacing:1.1px">2.2%</div>
<div class="t b" style="left:760.92px;top:454.80px;font-size:14px;line-height:14px;color:#2a3442;transform:scaleX(0.7150);letter-spacing:1.1px">0.4%</div>
<div class="t b" style="left:818.60px;top:454.80px;font-size:14px;line-height:14px;color:#2a3442;transform:scaleX(0.7150);letter-spacing:1.1px">0.0%</div>
<div class="t b" style="left:906.12px;top:454.80px;font-size:14px;line-height:14px;color:#2a3442;transform:scaleX(0.7150);letter-spacing:1.1px">4.8%</div>
<div class="t b" style="left:993.87px;top:454.80px;font-size:14px;line-height:14px;color:#2a3442;transform:scaleX(0.7150);letter-spacing:1.1px">0.3%</div>
<div class="bg" style="left:214.30px;top:475.15px;width:57.68px;height:24.56px;background:#fff3f1"></div>
<div class="bg" style="left:329.66px;top:475.15px;width:173.04px;height:24.56px;background:#fff3f1"></div>
<div class="bg" style="left:618.06px;top:475.15px;width:57.68px;height:24.56px;background:#fff3f1"></div>
<div class="bg" style="left:733.42px;top:475.15px;width:57.68px;height:24.56px;background:#fff3f1"></div>
<div class="bg" style="left:848.78px;top:475.15px;width:175.22px;height:24.56px;background:#fff3f1"></div>
<div class="bg" style="left:0.00px;top:475.15px;width:28.50px;height:24.56px;background:#f046c6"></div>
<div class="t b" style="left:5.81px;top:479.53px;font-size:13.2px;line-height:13.2px;color:rgba(255,255,255,0.84);transform:scaleX(0.5847)">DBC</div>
<div class="t b s" style="left:32.12px;top:483.38px;font-size:8.4px;line-height:8.4px;color:#2b3445;transform:scaleX(0.9238)">ТОВАРЫ</div>
<div class="t b" style="left:237.71px;top:479.36px;font-size:14px;line-height:14px;color:#2a3442;transform:scaleX(0.7150);letter-spacing:1.1px">-2.6%</div>
<div class="t b" style="left:299.48px;top:479.36px;font-size:14px;line-height:14px;color:#2a3442;transform:scaleX(0.7150);letter-spacing:1.1px">3.5%</div>
<div class="t b" style="left:353.07px;top:479.36px;font-size:14px;line-height:14px;color:#2a3442;transform:scaleX(0.7150);letter-spacing:1.1px">-7.6%</div>
<div class="t b" style="left:404.36px;top:479.36px;font-size:14px;line-height:14px;color:#2a3442;transform:scaleX(0.7150);letter-spacing:1.1px">-28.1%</div>
<div class="t b" style="left:462.04px;top:479.36px;font-size:14px;line-height:14px;color:#2a3442;transform:scaleX(0.7150);letter-spacing:1.1px">-27.6%</div>
<div class="t b" style="left:523.81px;top:479.36px;font-size:14px;line-height:14px;color:#2a3442;transform:scaleX(0.7150);letter-spacing:1.1px">18.6%</div>
<div class="t b" style="left:587.88px;top:479.36px;font-size:14px;line-height:14px;color:#2a3442;transform:scaleX(0.7150);letter-spacing:1.1px">4.9%</div>
<div class="t b" style="left:635.68px;top:479.36px;font-size:14px;line-height:14px;color:#2a3442;transform:scaleX(0.7150);letter-spacing:1.1px">-11.6%</div>
<div class="t b" style="left:697.45px;top:479.36px;font-size:14px;line-height:14px;color:#2a3442;transform:scaleX(0.7150);letter-spacing:1.1px">11.8%</div>
<div class="t b" style="left:756.83px;top:479.36px;font-size:14px;line-height:14px;color:#2a3442;transform:scaleX(0.7150);letter-spacing:1.1px">-7.8%</div>
<div class="t b" style="left:812.21px;top:479.36px;font-size:14px;line-height:14px;color:#2a3442;transform:scaleX(0.7150);letter-spacing:1.1px">18.5%</div>
<div class="t b" style="left:895.64px;top:479.36px;font-size:14px;line-height:14px;color:#2a3442;transform:scaleX(0.7150);letter-spacing:1.1px">-34.9%</div>
<div class="t b" style="left:989.78px;top:479.36px;font-size:14px;line-height:14px;color:#2a3442;transform:scaleX(0.7150);letter-spacing:1.1px">-4.1%</div>
<div class="bg" style="left:28.50px;top:105.95px;width:995.50px;height:1.60px;background:#5a84a6"></div>
<div class="bg" style="left:28.50px;top:130.51px;width:995.50px;height:1.60px;background:#3c3c7e"></div>
<div class="bg" style="left:28.50px;top:155.07px;width:995.50px;height:1.60px;background:#8a4aa8"></div>
<div class="bg" style="left:28.50px;top:179.63px;width:995.50px;height:1.60px;background:#d870c0"></div>
<div class="bg" style="left:28.50px;top:204.19px;width:995.50px;height:1.60px;background:#98c860"></div>
<div class="bg" style="left:28.50px;top:228.75px;width:995.50px;height:1.60px;background:#3a7cc0"></div>
<div class="bg" style="left:28.50px;top:253.31px;width:995.50px;height:1.60px;background:#e2cc58"></div>
<div class="bg" style="left:28.50px;top:277.87px;width:995.50px;height:1.60px;background:#e07050"></div>
<div class="bg" style="left:28.50px;top:302.43px;width:995.50px;height:1.60px;background:#3aa84a"></div>
<div class="bg" style="left:28.50px;top:326.99px;width:995.50px;height:1.60px;background:#d870c0"></div>
<div class="bg" style="left:28.50px;top:351.55px;width:995.50px;height:1.60px;background:#7e4ab0"></div>
<div class="bg" style="left:28.50px;top:376.11px;width:995.50px;height:1.60px;background:#3a7ac0"></div>
<div class="bg" style="left:28.50px;top:400.67px;width:995.50px;height:1.60px;background:#e2cc58"></div>
<div class="bg" style="left:28.50px;top:425.23px;width:995.50px;height:1.60px;background:#3aa84a"></div>
<div class="bg" style="left:28.50px;top:449.79px;width:995.50px;height:1.60px;background:#3a42a8"></div>
<div class="bg" style="left:28.50px;top:474.35px;width:995.50px;height:1.60px;background:#8048b0"></div>
<div class="bg" style="left:28.50px;top:498.71px;width:995.50px;height:1.69px;background:#c8a8c0"></div>
<div class="bg" style="left:0.00px;top:500.40px;width:1024.00px;height:28.00px;background:#12c326"></div>
<div class="bg" style="left:0.00px;top:527.90px;width:1024.00px;height:24.10px;background:#f45c44"></div>
<svg class="a" style="left:0;top:500px" width="28" height="52" viewBox="0 500 28 52"><path d="M14.25 510.9 L10.7 514.7 H13.1 V518.3 H15.4 V514.7 H17.8 Z" fill="#fff"/><path d="M14.25 543.5 L10.7 539.7 H13.1 V535.8 H15.4 V539.7 H17.8 Z" fill="#fff"/></svg>
<div class="t b s" style="left:32.83px;top:511.10px;font-size:8.4px;line-height:8.4px;color:#b0f2b0;transform:scaleX(0.9673)">МАКСИМАЛЬНЫЙ ПОКАЗАТЕЛЬ</div>
<div class="t b s" style="left:32.82px;top:535.40px;font-size:8.4px;line-height:8.4px;color:#ffcfc2;transform:scaleX(0.9787)">МИНИМАЛЬНЫЙ ПОКАЗАТЕЛЬ</div>
<div class="t b s" style="left:34.14px;top:560.00px;font-size:8.4px;line-height:8.4px;color:#2b3445;transform:scaleX(0.9545)">% ПОЛОЖИТЕЛЬНЫХ АКТИВОВ</div>
<div class="bg" style="left:214.30px;top:552.00px;width:57.68px;height:24.00px;background:#fddabc"></div>
<div class="bg" style="left:271.48px;top:552.00px;width:58.18px;height:24.00px;background:#dcfae2"></div>
<div class="bg" style="left:329.16px;top:552.00px;width:58.18px;height:24.00px;background:#fdebcc"></div>
<div class="bg" style="left:386.84px;top:552.00px;width:58.18px;height:24.00px;background:#fddabc"></div>
<div class="bg" style="left:444.52px;top:552.00px;width:58.18px;height:24.00px;background:#fdebcc"></div>
<div class="bg" style="left:502.20px;top:552.00px;width:58.18px;height:24.00px;background:#d2fad8"></div>
<div class="bg" style="left:559.88px;top:552.00px;width:58.18px;height:24.00px;background:#d2fad8"></div>
<div class="bg" style="left:617.56px;top:552.00px;width:58.18px;height:24.00px;background:#fff4f3"></div>
<div class="bg" style="left:675.24px;top:552.00px;width:58.18px;height:24.00px;background:#d2fad8"></div>
<div class="bg" style="left:732.92px;top:552.00px;width:58.18px;height:24.00px;background:#dbfbdf"></div>
<div class="bg" style="left:790.60px;top:552.00px;width:58.18px;height:24.00px;background:#fcebcb"></div>
<div class="bg" style="left:848.28px;top:552.00px;width:88.72px;height:24.00px;background:#dcfae2"></div>
<div class="bg" style="left:936.50px;top:552.00px;width:87.50px;height:24.00px;background:#dcfae2"></div>
<div class="t b" style="left:250.42px;top:505.79px;font-size:13px;line-height:13px;color:#d8ffd8;transform:scaleX(0.6193)">BTC</div>
<div class="t b" style="left:248.78px;top:532.19px;font-size:13px;line-height:13px;color:#ffe6de;transform:scaleX(0.6556)">EEM</div>
<div class="t b" style="left:245.39px;top:556.33px;font-size:14px;line-height:14px;color:#d88c40;transform:scaleX(0.7150);letter-spacing:1.1px">65%</div>
<div class="t b" style="left:308.10px;top:505.79px;font-size:13px;line-height:13px;color:#d8ffd8;transform:scaleX(0.6193)">BTC</div>
<div class="t b" style="left:310.55px;top:532.19px;font-size:13px;line-height:13px;color:#ffe6de;transform:scaleX(0.6724)">BIL</div>
<div class="t b" style="left:303.07px;top:556.33px;font-size:14px;line-height:14px;color:#44a452;transform:scaleX(0.7150);letter-spacing:1.1px">94%</div>
<div class="t b" style="left:365.78px;top:505.79px;font-size:13px;line-height:13px;color:#d8ffd8;transform:scaleX(0.6193)">BTC</div>
<div class="t b" style="left:365.83px;top:532.19px;font-size:13px;line-height:13px;color:#ffe6de;transform:scaleX(0.6025)">GLD</div>
<div class="t b" style="left:360.75px;top:556.33px;font-size:14px;line-height:14px;color:#d6b24e;transform:scaleX(0.7150);letter-spacing:1.1px">41%</div>
<div class="t b" style="left:423.14px;top:505.79px;font-size:13px;line-height:13px;color:#d8ffd8;transform:scaleX(0.5987)">VNQ</div>
<div class="t b" style="left:423.46px;top:532.19px;font-size:13px;line-height:13px;color:#ffe6de;transform:scaleX(0.6193)">BTC</div>
<div class="t b" style="left:418.43px;top:556.33px;font-size:14px;line-height:14px;color:#d88c40;transform:scaleX(0.7150);letter-spacing:1.1px">65%</div>
<div class="t b" style="left:481.14px;top:505.79px;font-size:13px;line-height:13px;color:#d8ffd8;transform:scaleX(0.6193)">BTC</div>
<div class="t b" style="left:480.96px;top:532.19px;font-size:13px;line-height:13px;color:#ffe6de;transform:scaleX(0.5937)">DBC</div>
<div class="t b" style="left:476.11px;top:556.33px;font-size:14px;line-height:14px;color:#d6b24e;transform:scaleX(0.7150);letter-spacing:1.1px">41%</div>
<div class="t b" style="left:538.82px;top:505.79px;font-size:13px;line-height:13px;color:#d8ffd8;transform:scaleX(0.6193)">BTC</div>
<div class="t b" style="left:541.27px;top:532.19px;font-size:13px;line-height:13px;color:#ffe6de;transform:scaleX(0.6724)">BIL</div>
<div class="t b" style="left:527.40px;top:556.33px;font-size:14px;line-height:14px;color:#3a9a48;transform:scaleX(0.7150);letter-spacing:1.1px">100%</div>
<div class="t b" style="left:596.50px;top:505.79px;font-size:13px;line-height:13px;color:#d8ffd8;transform:scaleX(0.6193)">BTC</div>
<div class="t b" style="left:598.95px;top:532.19px;font-size:13px;line-height:13px;color:#ffe6de;transform:scaleX(0.6724)">BIL</div>
<div class="t b" style="left:585.08px;top:556.33px;font-size:14px;line-height:14px;color:#3a9a48;transform:scaleX(0.7150);letter-spacing:1.1px">100%</div>
<div class="t b" style="left:656.63px;top:505.79px;font-size:13px;line-height:13px;color:#d8ffd8;transform:scaleX(0.6724)">BIL</div>
<div class="t b" style="left:654.18px;top:532.19px;font-size:13px;line-height:13px;color:#ffe6de;transform:scaleX(0.6193)">BTC</div>
<div class="t b" style="left:655.44px;top:556.33px;font-size:14px;line-height:14px;color:#d27070;transform:scaleX(0.7150);letter-spacing:1.1px">6%</div>
<div class="t b" style="left:711.86px;top:505.79px;font-size:13px;line-height:13px;color:#d8ffd8;transform:scaleX(0.6193)">BTC</div>
<div class="t b" style="left:714.31px;top:532.19px;font-size:13px;line-height:13px;color:#ffe6de;transform:scaleX(0.6724)">BIL</div>
<div class="t b" style="left:700.44px;top:556.33px;font-size:14px;line-height:14px;color:#3a9a48;transform:scaleX(0.7150);letter-spacing:1.1px">100%</div>
<div class="t b" style="left:769.54px;top:505.79px;font-size:13px;line-height:13px;color:#d8ffd8;transform:scaleX(0.6193)">BTC</div>
<div class="t b" style="left:769.36px;top:532.19px;font-size:13px;line-height:13px;color:#ffe6de;transform:scaleX(0.5937)">DBC</div>
<div class="t b" style="left:764.51px;top:556.33px;font-size:14px;line-height:14px;color:#4cae5a;transform:scaleX(0.7150);letter-spacing:1.1px">88%</div>
<div class="t b" style="left:827.22px;top:505.79px;font-size:13px;line-height:13px;color:#d8ffd8;transform:scaleX(0.6193)">BTC</div>
<div class="t b" style="left:829.90px;top:532.19px;font-size:13px;line-height:13px;color:#ffe6de;transform:scaleX(0.5968)">TLT</div>
<div class="t b" style="left:822.19px;top:556.33px;font-size:14px;line-height:14px;color:#d6b24e;transform:scaleX(0.7150);letter-spacing:1.1px">47%</div>
<div class="t b" style="left:914.74px;top:505.79px;font-size:13px;line-height:13px;color:#d8ffd8;transform:scaleX(0.6193)">BTC</div>
<div class="t b" style="left:914.56px;top:532.19px;font-size:13px;line-height:13px;color:#ffe6de;transform:scaleX(0.5937)">DBC</div>
<div class="t b" style="left:909.71px;top:556.33px;font-size:14px;line-height:14px;color:#44a452;transform:scaleX(0.7150);letter-spacing:1.1px">94%</div>
<div class="t b" style="left:1002.49px;top:505.79px;font-size:13px;line-height:13px;color:#d8ffd8;transform:scaleX(0.6193)">BTC</div>
<div class="t b" style="left:1002.31px;top:532.19px;font-size:13px;line-height:13px;color:#ffe6de;transform:scaleX(0.5937)">DBC</div>
<div class="t b" style="left:997.46px;top:556.33px;font-size:14px;line-height:14px;color:#44a452;transform:scaleX(0.7150);letter-spacing:1.1px">94%</div>
</body></html>
